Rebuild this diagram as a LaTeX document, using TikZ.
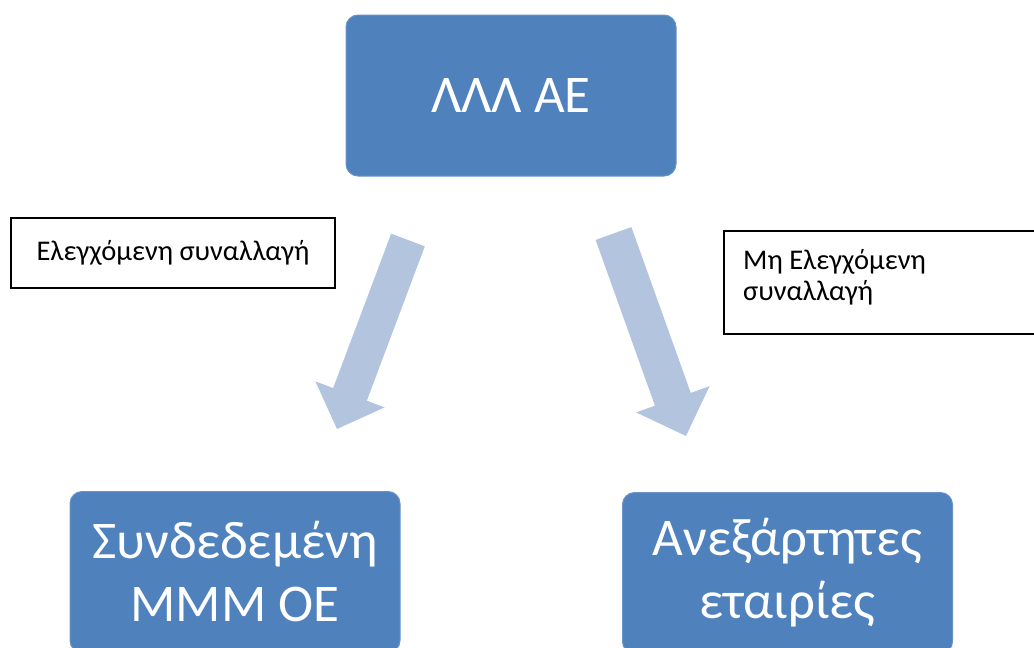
\documentclass[tikz,border=0pt]{standalone}
\usepackage{fontspec}
\setmainfont{Carlito}
\usetikzlibrary{calc}
\definecolor{boxblue}{HTML}{4F81BD}
\definecolor{arrowblue}{HTML}{B3C4DF}
\tikzset{
  bluebox/.style={fill=boxblue, draw=boxblue!85!white, line width=1pt, rounded corners=12pt,
    minimum width=330pt, minimum height=161pt, text=white, align=center, inner sep=0pt},
  labelbox/.style={draw=black, line width=1.5pt, fill=white, inner sep=0pt,
    font=\fontsize{28.5}{31}\selectfont},
  labeltext/.style={inner sep=0pt, align=left, font=\fontsize{28.5}{31}\selectfont},
}
\newcommand{\blockarrow}[5]{% tail, tip, shaft width/2, head width/2, head length
  \coordinate (#1-h) at ($(#2)!#5!(#1)$);
  \fill[arrowblue]
    ($(#1)!#3!90:(#2)$) -- ($(#1)!#3!-90:(#2)$)
    -- ($(#1-h)!#3!-90:(#2)$)
    -- ($(#1-h)!#4!-90:(#2)$)
    -- (#2)
    -- ($(#1-h)!#4!90:(#2)$)
    -- ($(#1-h)!#3!90:(#2)$)
    -- cycle;}
\begin{document}
\begin{tikzpicture}[x=1pt,y=-1pt]
\useasboundingbox (0,0) rectangle (1034,648);
\node[bluebox, font=\fontsize{53}{60}\selectfont] (top) at (511,95.5) {ΛΛΛ ΑΕ};
\node[bluebox, font=\fontsize{53}{63}\selectfont] (bl) at (235,572) {Συνδεδεμένη\\ΜΜΜ ΟΕ};
\node[bluebox, font=\fontsize{53}{63}\selectfont] (br) at (787.5,573) {Ανεξάρτητες\\εταιρίες};
\node[labelbox, minimum width=324pt, minimum height=70pt] (ll) at (173,253) {Ελεγχόμενη συναλλαγή};
\node[labelbox, anchor=north west, minimum width=320pt, minimum height=103pt] (rl) at (723,230) {};
\node[labeltext, anchor=west] (rlt) at ($(rl.west)+(20,-5)$) {Μη Ελεγχόμενη\\συναλλαγή};
\coordinate (lt) at (408,240);
\coordinate (lp) at (337,429);
\coordinate (rt) at (613.5,233.5);
\coordinate (rp) at (686,436);
\blockarrow{lt}{lp}{18pt}{37pt}{37pt}
\blockarrow{rt}{rp}{19pt}{39pt}{39pt}
\end{tikzpicture}
\end{document}
